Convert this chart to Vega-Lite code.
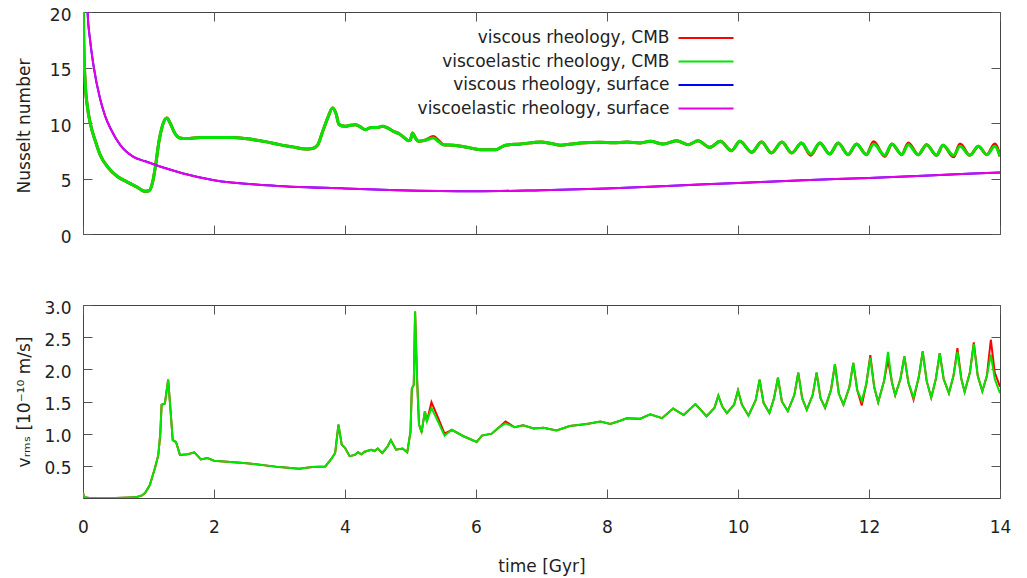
{
"$schema":"https://vega.github.io/schema/vega-lite/v6.json",
"padding":{"left":14,"top":5,"right":5,"bottom":5},
"background":"white",
"config":{
 "font":"DejaVu Sans",
 "view":{"stroke":"#444444","strokeWidth":1},
 "axis":{"grid":false,"domain":false,"labelFlush":false,"tickColor":"#555555","tickSize":-9,"tickWidth":1,"labelFontSize":17,"labelColor":"#222222","titleFontSize":17,"titleFontWeight":"normal","titleColor":"#222222"},
 "legend":{"labelFontSize":17,"labelColor":"#222222"}
},
"datasets":{
"nu_red":[{"t":0,"nu":60},{"t":0.005,"nu":20.5},{"t":0.015,"nu":16.5},{"t":0.035,"nu":13.5},{"t":0.07,"nu":11.35},{"t":0.11,"nu":10.0},{"t":0.19,"nu":8.35},{"t":0.26,"nu":7.15},{"t":0.39,"nu":5.95},{"t":0.52,"nu":5.2},{"t":0.67,"nu":4.7},{"t":0.82,"nu":4.25},{"t":0.95,"nu":3.85},{"t":1.01,"nu":3.9},{"t":1.06,"nu":4.6},{"t":1.11,"nu":6.25},{"t":1.16,"nu":8.35},{"t":1.21,"nu":9.7},{"t":1.28,"nu":10.45},{"t":1.33,"nu":10.0},{"t":1.4,"nu":9.1},{"t":1.48,"nu":8.65},{"t":1.58,"nu":8.6},{"t":1.8,"nu":8.7},{"t":2.0,"nu":8.7},{"t":2.3,"nu":8.7},{"t":2.6,"nu":8.5},{"t":2.8,"nu":8.3},{"t":3.0,"nu":8.05},{"t":3.2,"nu":7.85},{"t":3.4,"nu":7.65},{"t":3.5,"nu":7.7},{"t":3.58,"nu":8.0},{"t":3.66,"nu":9.25},{"t":3.74,"nu":10.5},{"t":3.81,"nu":11.35},{"t":3.86,"nu":10.9},{"t":3.91,"nu":9.85},{"t":4.0,"nu":9.7},{"t":4.08,"nu":9.8},{"t":4.16,"nu":9.85},{"t":4.22,"nu":9.7},{"t":4.31,"nu":9.4},{"t":4.4,"nu":9.6},{"t":4.5,"nu":9.6},{"t":4.57,"nu":9.7},{"t":4.65,"nu":9.55},{"t":4.74,"nu":9.25},{"t":4.82,"nu":9.05},{"t":4.9,"nu":8.7},{"t":4.97,"nu":8.41},{"t":5.0,"nu":8.5},{"t":5.03,"nu":9.1},{"t":5.07,"nu":8.7},{"t":5.12,"nu":8.35},{"t":5.22,"nu":8.44},{"t":5.35,"nu":8.78},{"t":5.43,"nu":8.4},{"t":5.5,"nu":8.05},{"t":5.66,"nu":8.0},{"t":5.86,"nu":7.81},{"t":6.07,"nu":7.6},{"t":6.3,"nu":7.6},{"t":6.38,"nu":7.8},{"t":6.45,"nu":8.0},{"t":6.68,"nu":8.11},{"t":6.99,"nu":8.29},{"t":7.15,"nu":8.15},{"t":7.29,"nu":8.0},{"t":7.45,"nu":8.1},{"t":7.6,"nu":8.2},{"t":7.89,"nu":8.26},{"t":8.1,"nu":8.22},{"t":8.3,"nu":8.28},{"t":8.5,"nu":8.2},{"t":8.66,"nu":8.35},{"t":8.86,"nu":8.1},{"t":9.06,"nu":8.41},{"t":9.24,"nu":8.05},{"t":9.39,"nu":8.4},{"t":9.57,"nu":7.81},{"t":9.73,"nu":8.35},{"t":9.9,"nu":7.51},{"t":10.03,"nu":8.35},{"t":10.21,"nu":7.36},{"t":10.36,"nu":8.29},{"t":10.51,"nu":7.3},{"t":10.67,"nu":8.29},{"t":10.82,"nu":7.3},{"t":10.97,"nu":8.2},{"t":11.11,"nu":7.1},{"t":11.25,"nu":8.2},{"t":11.4,"nu":7.21},{"t":11.53,"nu":8.2},{"t":11.68,"nu":7.15},{"t":11.81,"nu":8.11},{"t":11.96,"nu":7.15},{"t":12.07,"nu":8.3},{"t":12.24,"nu":7.0},{"t":12.35,"nu":8.11},{"t":12.5,"nu":7.15},{"t":12.6,"nu":8.2},{"t":12.75,"nu":7.15},{"t":12.88,"nu":8.05},{"t":13.03,"nu":7.09},{"t":13.13,"nu":7.99},{"t":13.29,"nu":6.95},{"t":13.39,"nu":8.1},{"t":13.54,"nu":7.09},{"t":13.67,"nu":7.9},{"t":13.8,"nu":7.15},{"t":13.92,"nu":8.1},{"t":14.0,"nu":7.0}],
"nu_green":[{"t":0,"nu":60},{"t":0.005,"nu":20.5},{"t":0.015,"nu":16.5},{"t":0.035,"nu":13.5},{"t":0.07,"nu":11.35},{"t":0.11,"nu":10.0},{"t":0.19,"nu":8.35},{"t":0.26,"nu":7.15},{"t":0.39,"nu":5.95},{"t":0.52,"nu":5.2},{"t":0.67,"nu":4.7},{"t":0.82,"nu":4.25},{"t":0.95,"nu":3.85},{"t":1.01,"nu":3.9},{"t":1.06,"nu":4.6},{"t":1.11,"nu":6.25},{"t":1.16,"nu":8.35},{"t":1.21,"nu":9.7},{"t":1.28,"nu":10.45},{"t":1.33,"nu":10.0},{"t":1.4,"nu":9.1},{"t":1.48,"nu":8.65},{"t":1.58,"nu":8.6},{"t":1.8,"nu":8.7},{"t":2.0,"nu":8.7},{"t":2.3,"nu":8.7},{"t":2.6,"nu":8.5},{"t":2.8,"nu":8.3},{"t":3.0,"nu":8.05},{"t":3.2,"nu":7.85},{"t":3.4,"nu":7.65},{"t":3.5,"nu":7.7},{"t":3.58,"nu":8.0},{"t":3.66,"nu":9.25},{"t":3.74,"nu":10.5},{"t":3.81,"nu":11.35},{"t":3.86,"nu":10.9},{"t":3.91,"nu":9.85},{"t":4.0,"nu":9.7},{"t":4.08,"nu":9.8},{"t":4.16,"nu":9.85},{"t":4.22,"nu":9.7},{"t":4.31,"nu":9.4},{"t":4.4,"nu":9.6},{"t":4.5,"nu":9.6},{"t":4.57,"nu":9.7},{"t":4.65,"nu":9.55},{"t":4.74,"nu":9.25},{"t":4.82,"nu":9.05},{"t":4.9,"nu":8.7},{"t":4.97,"nu":8.41},{"t":5.0,"nu":8.5},{"t":5.03,"nu":9.1},{"t":5.07,"nu":8.7},{"t":5.12,"nu":8.35},{"t":5.22,"nu":8.44},{"t":5.35,"nu":8.65},{"t":5.43,"nu":8.3},{"t":5.5,"nu":8.05},{"t":5.66,"nu":8.0},{"t":5.86,"nu":7.81},{"t":6.07,"nu":7.6},{"t":6.3,"nu":7.6},{"t":6.38,"nu":7.8},{"t":6.45,"nu":8.0},{"t":6.68,"nu":8.11},{"t":6.99,"nu":8.29},{"t":7.15,"nu":8.15},{"t":7.29,"nu":8.0},{"t":7.45,"nu":8.1},{"t":7.6,"nu":8.2},{"t":7.89,"nu":8.26},{"t":8.1,"nu":8.22},{"t":8.3,"nu":8.28},{"t":8.5,"nu":8.2},{"t":8.66,"nu":8.35},{"t":8.86,"nu":8.1},{"t":9.06,"nu":8.41},{"t":9.24,"nu":8.05},{"t":9.39,"nu":8.4},{"t":9.57,"nu":7.81},{"t":9.73,"nu":8.35},{"t":9.9,"nu":7.51},{"t":10.03,"nu":8.35},{"t":10.21,"nu":7.36},{"t":10.36,"nu":8.29},{"t":10.51,"nu":7.3},{"t":10.67,"nu":8.29},{"t":10.82,"nu":7.3},{"t":10.97,"nu":8.2},{"t":11.11,"nu":7.21},{"t":11.25,"nu":8.2},{"t":11.4,"nu":7.21},{"t":11.53,"nu":8.2},{"t":11.68,"nu":7.15},{"t":11.81,"nu":8.11},{"t":11.96,"nu":7.15},{"t":12.07,"nu":8.11},{"t":12.24,"nu":7.09},{"t":12.35,"nu":8.11},{"t":12.5,"nu":7.15},{"t":12.6,"nu":8.05},{"t":12.75,"nu":7.15},{"t":12.88,"nu":8.05},{"t":13.03,"nu":7.09},{"t":13.13,"nu":7.99},{"t":13.29,"nu":7.09},{"t":13.39,"nu":7.9},{"t":13.54,"nu":7.09},{"t":13.67,"nu":7.9},{"t":13.8,"nu":7.15},{"t":13.92,"nu":7.9},{"t":14.0,"nu":7.0}],
"nu_blue":[{"t":0,"nu":60},{"t":0.04,"nu":30},{"t":0.07,"nu":20},{"t":0.11,"nu":17.4},{"t":0.16,"nu":15.2},{"t":0.26,"nu":12.2},{"t":0.34,"nu":10.6},{"t":0.42,"nu":9.5},{"t":0.57,"nu":8.0},{"t":0.77,"nu":6.95},{"t":0.95,"nu":6.55},{"t":1.12,"nu":6.2},{"t":1.3,"nu":5.85},{"t":1.53,"nu":5.45},{"t":2.0,"nu":4.85},{"t":2.8,"nu":4.4},{"t":4.0,"nu":4.1},{"t":4.8,"nu":3.95},{"t":6.0,"nu":3.85},{"t":7.0,"nu":3.95},{"t":8.0,"nu":4.1},{"t":9.0,"nu":4.35},{"t":10.0,"nu":4.6},{"t":11.0,"nu":4.85},{"t":12.0,"nu":5.05},{"t":13.0,"nu":5.3},{"t":14.0,"nu":5.55}],
"nu_magenta":[{"t":0,"nu":60},{"t":0.04,"nu":30},{"t":0.07,"nu":20},{"t":0.11,"nu":17.4},{"t":0.16,"nu":15.2},{"t":0.26,"nu":12.2},{"t":0.34,"nu":10.6},{"t":0.42,"nu":9.5},{"t":0.57,"nu":8.0},{"t":0.77,"nu":6.95},{"t":0.95,"nu":6.55},{"t":1.12,"nu":6.2},{"t":1.3,"nu":5.85},{"t":1.53,"nu":5.45},{"t":2.0,"nu":4.85},{"t":2.8,"nu":4.4},{"t":4.0,"nu":4.1},{"t":4.8,"nu":3.95},{"t":6.0,"nu":3.85},{"t":7.0,"nu":3.95},{"t":8.0,"nu":4.1},{"t":9.0,"nu":4.35},{"t":10.0,"nu":4.6},{"t":11.0,"nu":4.85},{"t":12.0,"nu":5.05},{"t":13.0,"nu":5.3},{"t":14.0,"nu":5.55}],
"v_red":[{"t":0,"v":0.08},{"t":0.02,"v":0.01},{"t":0.1,"v":0.0},{"t":0.5,"v":0.0},{"t":0.8,"v":0.01},{"t":0.9,"v":0.04},{"t":0.95,"v":0.08},{"t":1.02,"v":0.2},{"t":1.1,"v":0.47},{"t":1.15,"v":0.67},{"t":1.18,"v":1.0},{"t":1.2,"v":1.45},{"t":1.25,"v":1.47},{"t":1.3,"v":1.84},{"t":1.33,"v":1.45},{"t":1.37,"v":0.9},{"t":1.42,"v":0.87},{"t":1.48,"v":0.67},{"t":1.6,"v":0.68},{"t":1.7,"v":0.71},{"t":1.8,"v":0.6},{"t":1.9,"v":0.62},{"t":2.0,"v":0.58},{"t":2.5,"v":0.54},{"t":3.0,"v":0.48},{"t":3.3,"v":0.455},{"t":3.5,"v":0.48},{"t":3.7,"v":0.49},{"t":3.8,"v":0.62},{"t":3.85,"v":0.7},{"t":3.9,"v":1.14},{"t":3.95,"v":0.83},{"t":4.0,"v":0.78},{"t":4.07,"v":0.65},{"t":4.15,"v":0.67},{"t":4.2,"v":0.71},{"t":4.25,"v":0.68},{"t":4.3,"v":0.72},{"t":4.4,"v":0.75},{"t":4.45,"v":0.73},{"t":4.5,"v":0.77},{"t":4.57,"v":0.7},{"t":4.65,"v":0.8},{"t":4.7,"v":0.9},{"t":4.78,"v":0.75},{"t":4.88,"v":0.77},{"t":4.95,"v":0.71},{"t":5.0,"v":1.03},{"t":5.02,"v":1.7},{"t":5.05,"v":1.76},{"t":5.07,"v":2.9},{"t":5.1,"v":1.86},{"t":5.13,"v":1.14},{"t":5.17,"v":1.02},{"t":5.22,"v":1.35},{"t":5.25,"v":1.19},{"t":5.32,"v":1.49},{"t":5.42,"v":1.25},{"t":5.52,"v":1.0},{"t":5.63,"v":1.06},{"t":5.81,"v":0.96},{"t":6.01,"v":0.87},{"t":6.09,"v":0.97},{"t":6.24,"v":1.0},{"t":6.34,"v":1.09},{"t":6.45,"v":1.19},{"t":6.59,"v":1.1},{"t":6.72,"v":1.13},{"t":6.88,"v":1.08},{"t":7.03,"v":1.09},{"t":7.23,"v":1.05},{"t":7.43,"v":1.12},{"t":7.69,"v":1.15},{"t":7.9,"v":1.19},{"t":8.05,"v":1.15},{"t":8.2,"v":1.2},{"t":8.3,"v":1.24},{"t":8.5,"v":1.23},{"t":8.66,"v":1.3},{"t":8.84,"v":1.24},{"t":9.01,"v":1.39},{"t":9.17,"v":1.29},{"t":9.35,"v":1.46},{"t":9.52,"v":1.27},{"t":9.64,"v":1.4},{"t":9.7,"v":1.59},{"t":9.76,"v":1.42},{"t":9.83,"v":1.32},{"t":9.94,"v":1.45},{"t":10.0,"v":1.67},{"t":10.06,"v":1.45},{"t":10.16,"v":1.28},{"t":10.27,"v":1.52},{"t":10.33,"v":1.84},{"t":10.39,"v":1.48},{"t":10.48,"v":1.32},{"t":10.55,"v":1.55},{"t":10.61,"v":1.87},{"t":10.67,"v":1.5},{"t":10.76,"v":1.35},{"t":10.86,"v":1.6},{"t":10.92,"v":1.95},{"t":10.98,"v":1.55},{"t":11.05,"v":1.37},{"t":11.14,"v":1.6},{"t":11.2,"v":1.95},{"t":11.26,"v":1.55},{"t":11.33,"v":1.4},{"t":11.42,"v":1.68},{"t":11.48,"v":2.08},{"t":11.54,"v":1.62},{"t":11.61,"v":1.45},{"t":11.7,"v":1.72},{"t":11.76,"v":2.1},{"t":11.82,"v":1.68},{"t":11.89,"v":1.44},{"t":11.96,"v":1.78},{"t":12.02,"v":2.22},{"t":12.08,"v":1.72},{"t":12.14,"v":1.49},{"t":12.23,"v":1.82},{"t":12.29,"v":2.15},{"t":12.35,"v":1.8},{"t":12.4,"v":1.6},{"t":12.48,"v":1.85},{"t":12.54,"v":2.2},{"t":12.6,"v":1.8},{"t":12.68,"v":1.53},{"t":12.76,"v":1.88},{"t":12.82,"v":2.28},{"t":12.88,"v":1.82},{"t":12.95,"v":1.56},{"t":13.02,"v":1.85},{"t":13.08,"v":2.25},{"t":13.14,"v":1.85},{"t":13.22,"v":1.63},{"t":13.29,"v":1.9},{"t":13.35,"v":2.33},{"t":13.41,"v":1.85},{"t":13.46,"v":1.65},{"t":13.54,"v":1.95},{"t":13.6,"v":2.42},{"t":13.66,"v":1.9},{"t":13.73,"v":1.66},{"t":13.8,"v":1.9},{"t":13.86,"v":2.46},{"t":13.92,"v":1.95},{"t":14.0,"v":1.73}],
"v_green":[{"t":0,"v":0.08},{"t":0.02,"v":0.01},{"t":0.1,"v":0.0},{"t":0.5,"v":0.0},{"t":0.8,"v":0.01},{"t":0.9,"v":0.04},{"t":0.95,"v":0.08},{"t":1.02,"v":0.2},{"t":1.1,"v":0.47},{"t":1.15,"v":0.67},{"t":1.18,"v":1.0},{"t":1.2,"v":1.45},{"t":1.25,"v":1.47},{"t":1.3,"v":1.84},{"t":1.33,"v":1.45},{"t":1.37,"v":0.9},{"t":1.42,"v":0.87},{"t":1.48,"v":0.67},{"t":1.6,"v":0.68},{"t":1.7,"v":0.71},{"t":1.8,"v":0.6},{"t":1.9,"v":0.62},{"t":2.0,"v":0.58},{"t":2.5,"v":0.54},{"t":3.0,"v":0.48},{"t":3.3,"v":0.455},{"t":3.5,"v":0.48},{"t":3.7,"v":0.49},{"t":3.8,"v":0.62},{"t":3.85,"v":0.7},{"t":3.9,"v":1.14},{"t":3.95,"v":0.83},{"t":4.0,"v":0.78},{"t":4.07,"v":0.65},{"t":4.15,"v":0.67},{"t":4.2,"v":0.71},{"t":4.25,"v":0.68},{"t":4.3,"v":0.72},{"t":4.4,"v":0.75},{"t":4.45,"v":0.73},{"t":4.5,"v":0.77},{"t":4.57,"v":0.7},{"t":4.65,"v":0.8},{"t":4.7,"v":0.9},{"t":4.78,"v":0.75},{"t":4.88,"v":0.77},{"t":4.95,"v":0.71},{"t":5.0,"v":1.03},{"t":5.02,"v":1.7},{"t":5.05,"v":1.76},{"t":5.07,"v":2.9},{"t":5.1,"v":1.86},{"t":5.13,"v":1.14},{"t":5.17,"v":1.03},{"t":5.22,"v":1.35},{"t":5.25,"v":1.19},{"t":5.32,"v":1.4},{"t":5.42,"v":1.19},{"t":5.52,"v":0.97},{"t":5.63,"v":1.06},{"t":5.81,"v":0.96},{"t":6.01,"v":0.87},{"t":6.09,"v":0.97},{"t":6.24,"v":1.0},{"t":6.34,"v":1.09},{"t":6.45,"v":1.16},{"t":6.59,"v":1.1},{"t":6.72,"v":1.13},{"t":6.88,"v":1.08},{"t":7.03,"v":1.09},{"t":7.23,"v":1.05},{"t":7.43,"v":1.12},{"t":7.69,"v":1.15},{"t":7.9,"v":1.19},{"t":8.05,"v":1.15},{"t":8.2,"v":1.2},{"t":8.3,"v":1.24},{"t":8.5,"v":1.23},{"t":8.66,"v":1.3},{"t":8.84,"v":1.24},{"t":9.01,"v":1.39},{"t":9.17,"v":1.29},{"t":9.35,"v":1.46},{"t":9.52,"v":1.27},{"t":9.64,"v":1.4},{"t":9.7,"v":1.59},{"t":9.76,"v":1.42},{"t":9.83,"v":1.32},{"t":9.94,"v":1.45},{"t":10.0,"v":1.67},{"t":10.06,"v":1.45},{"t":10.16,"v":1.28},{"t":10.27,"v":1.52},{"t":10.33,"v":1.84},{"t":10.39,"v":1.48},{"t":10.48,"v":1.32},{"t":10.55,"v":1.55},{"t":10.61,"v":1.87},{"t":10.67,"v":1.5},{"t":10.76,"v":1.35},{"t":10.86,"v":1.6},{"t":10.92,"v":1.95},{"t":10.98,"v":1.55},{"t":11.05,"v":1.37},{"t":11.14,"v":1.6},{"t":11.2,"v":1.95},{"t":11.26,"v":1.55},{"t":11.33,"v":1.4},{"t":11.42,"v":1.68},{"t":11.48,"v":2.08},{"t":11.54,"v":1.62},{"t":11.61,"v":1.45},{"t":11.7,"v":1.72},{"t":11.76,"v":2.1},{"t":11.82,"v":1.68},{"t":11.89,"v":1.51},{"t":11.96,"v":1.78},{"t":12.02,"v":2.18},{"t":12.08,"v":1.72},{"t":12.14,"v":1.49},{"t":12.23,"v":1.82},{"t":12.29,"v":2.27},{"t":12.35,"v":1.8},{"t":12.4,"v":1.6},{"t":12.48,"v":1.85},{"t":12.54,"v":2.2},{"t":12.6,"v":1.8},{"t":12.68,"v":1.56},{"t":12.76,"v":1.88},{"t":12.82,"v":2.28},{"t":12.88,"v":1.82},{"t":12.95,"v":1.56},{"t":13.02,"v":1.85},{"t":13.08,"v":2.25},{"t":13.14,"v":1.85},{"t":13.22,"v":1.63},{"t":13.29,"v":1.9},{"t":13.35,"v":2.27},{"t":13.41,"v":1.85},{"t":13.46,"v":1.65},{"t":13.54,"v":1.95},{"t":13.6,"v":2.39},{"t":13.66,"v":1.9},{"t":13.73,"v":1.66},{"t":13.8,"v":1.9},{"t":13.86,"v":2.23},{"t":13.92,"v":1.85},{"t":14.0,"v":1.63}]
},
"spacing":71,
"bounds":"flush",
"vconcat":[
{
 "width":917,"height":222,
 "resolve":{"axis":{"x":"independent","y":"independent"}},
 "layer":[
  {"data":{"name":"nu_red"},"mark":{"type":"line","interpolate":"monotone","strokeWidth":3,"clip":true},
   "encoding":{
    "x":{"field":"t","type":"quantitative","scale":{"domain":[0,14],"nice":false},"axis":{"orient":"bottom","values":[0,2,4,6,8,10,12,14],"labels":false,"title":null}},
    "y":{"field":"nu","type":"quantitative","scale":{"domain":[0,20],"nice":false},"axis":{"orient":"left","values":[0,5,10,15,20],"title":"Nusselt number","labelPadding":21,"labelOffset":3,"titleX":-50,"titleY":113.5}},
    "color":{"datum":"viscous rheology, CMB","type":"nominal","scale":{"domain":["viscous rheology, CMB","viscoelastic rheology, CMB","viscous rheology, surface","viscoelastic rheology, surface"],"range":["#ff0000","#00e600","#0000ff","#e600e6"]},
     "legend":{"orient":"none","legendX":611,"legendY":14,"title":null,"symbolType":"M-2.5,0H2.5","symbolSize":484,"symbolStrokeWidth":2,"labelAlign":"right","labelOffset":-48.5,"padding":0,"rowPadding":3.5,"labelFontSize":17,"labelLimit":400}}
   }},
  {"data":{"name":"nu_green"},"mark":{"type":"line","interpolate":"monotone","strokeWidth":3,"clip":true},
   "encoding":{
    "x":{"field":"t","type":"quantitative","axis":null},
    "y":{"field":"nu","type":"quantitative","axis":null},
    "color":{"datum":"viscoelastic rheology, CMB","type":"nominal"}
   }},
  {"data":{"name":"nu_blue"},"mark":{"type":"line","interpolate":"monotone","strokeWidth":2,"clip":true},
   "encoding":{
    "x":{"field":"t","type":"quantitative","axis":null},
    "y":{"field":"nu","type":"quantitative","axis":null},
    "color":{"datum":"viscous rheology, surface","type":"nominal"}
   }},
  {"data":{"name":"nu_magenta"},"mark":{"type":"line","interpolate":"monotone","strokeWidth":2,"clip":true},
   "encoding":{
    "x":{"field":"t","type":"quantitative","axis":{"orient":"top","values":[0,2,4,6,8,10,12,14],"labels":false,"title":null}},
    "y":{"field":"nu","type":"quantitative","axis":{"orient":"right","values":[0,5,10,15,20],"labels":false,"title":null}},
    "color":{"datum":"viscoelastic rheology, surface","type":"nominal"}
   }}
 ]
},
{
 "width":917,"height":193,
 "resolve":{"axis":{"x":"independent","y":"independent"}},
 "layer":[
  {"data":{"name":"v_red"},"mark":{"type":"line","strokeWidth":2,"color":"#ff0000","clip":true},
   "encoding":{
    "x":{"field":"t","type":"quantitative","scale":{"domain":[0,14],"nice":false},"axis":{"orient":"bottom","values":[0,2,4,6,8,10,12,14],"title":"time [Gyr]","labelPadding":30,"titleY":60,"titleBaseline":"top"}},
    "y":{"field":"v","type":"quantitative","scale":{"domain":[0,3],"nice":false},"axis":{"orient":"left","values":[0.5,1,1.5,2,2.5,3],"format":".1f","title":"vᵣₘₛ [10⁻¹⁰ m/s]","labelPadding":21,"labelOffset":3,"titleX":-50,"titleY":96.5}}
   }},
  {"data":{"name":"v_green"},"mark":{"type":"line","strokeWidth":2,"color":"#00e600","clip":true},
   "encoding":{
    "x":{"field":"t","type":"quantitative","axis":{"orient":"top","values":[0,2,4,6,8,10,12,14],"labels":false,"title":null}},
    "y":{"field":"v","type":"quantitative","axis":{"orient":"right","values":[0.5,1,1.5,2,2.5,3],"labels":false,"title":null}}
   }}
 ]
}
]
}
